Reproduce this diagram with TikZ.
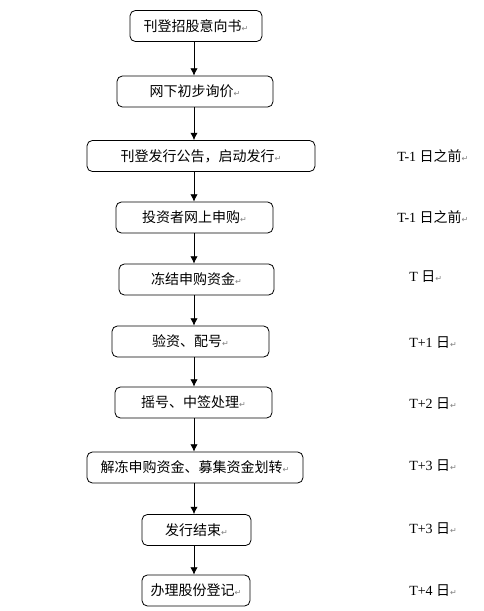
\documentclass[tikz,border=0pt]{standalone}
\usepackage{fontspec}
\setmainfont{Liberation Serif}
\newfontfamily\cjk{Noto Sans CJK SC}
\newfontfamily\symfnt{DejaVu Sans}
\usetikzlibrary{arrows.meta}
\newcommand{\ret}{{\symfnt\color{gray}\fontsize{6}{6}\selectfont ↵}}
\tikzset{
  stage/.style={draw, rounded corners=4pt, minimum height=23.25pt, inner sep=0pt,
    line width=0.6pt, font=\cjk\fontsize{10.5}{12}\selectfont},
  when/.style={anchor=west, inner sep=0pt, font=\fontsize{10.5}{12}\selectfont},
  flow/.style={-{Latex[length=5.5pt,width=5.5pt]}, line width=0.6pt}
}
\begin{document}
\begin{tikzpicture}[x=0.75pt,y=-0.75pt]
        \useasboundingbox (0,0) rectangle (483,611);
        % Nodes
        \node[stage, minimum width=99pt]     (b1)  at (196,26)    {刊登招股意向书\ret};
        \node[stage, minimum width=117pt]    (b2)  at (195,91.5)  {网下初步询价\ret};
        \node[stage, minimum width=171pt]    (b3)  at (201,156)   {刊登发行公告，启动发行\ret};
        \node[stage, minimum width=117.75pt] (b4)  at (194.5,217.5) {投资者网上申购\ret};
        \node[stage, minimum width=116.25pt] (b5)  at (196.5,279.5) {冻结申购资金\ret};
        \node[stage, minimum width=117.75pt] (b6)  at (190.5,341.5) {验资、配号\ret};
        \node[stage, minimum width=117.75pt] (b7)  at (193.5,402.5) {摇号、中签处理\ret};
        \node[stage, minimum width=162pt]    (b8)  at (195,467.5) {解冻申购资金、募集资金划转\ret};
        \node[stage, minimum width=81.75pt]  (b9)  at (196.5,530) {发行结束\ret};
        \node[stage, minimum width=81pt]     (b10) at (196,590.5) {办理股份登记\ret};
        % Dates
        \node[when] (t3)  at (397,156) {T-1 {\cjk 日之前}\ret};
        \node[when] (t4)  at (397,217) {T-1 {\cjk 日之前}\ret};
        \node[when] (t5)  at (409,277) {T {\cjk 日}\ret};
        \node[when] (t6)  at (409,343) {T+1 {\cjk 日}\ret};
        \node[when] (t7)  at (409,404) {T+2 {\cjk 日}\ret};
        \node[when] (t8)  at (409,466) {T+3 {\cjk 日}\ret};
        \node[when] (t9)  at (409,529) {T+3 {\cjk 日}\ret};
        \node[when] (t10) at (409,591) {T+4 {\cjk 日}\ret};
        % Arrows
        \coordinate (ax) at (194,0);
        \foreach \a/\b in {b1/b2,b2/b3,b3/b4,b4/b5,b5/b6,b6/b7,b7/b8,b8/b9,b9/b10}
          \draw[flow] (\a.south -| ax) -- (\b.north -| ax);
    \end{tikzpicture}
\end{document}
